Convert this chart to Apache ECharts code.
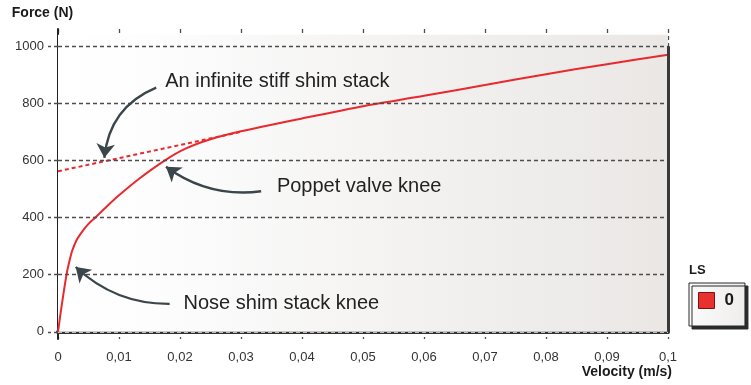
<!DOCTYPE html>
<html>
<head>
<meta charset="utf-8">
<title>Force vs velocity</title>
<script src="https://cdn.jsdelivr.net/npm/echarts@6/dist/echarts.min.js"></script>
<style>
  html, body { margin: 0; padding: 0; background: #ffffff; }
  #chart { width: 751px; height: 385px; }
</style>
</head>
<body>
<div id="chart"></div>
<script>
// Damper force curve (LS setting 0)
const velocity = [0, 0.0004, 0.0008, 0.0012, 0.0015, 0.0018, 0.0023, 0.0031, 0.004, 0.005,
  0.0062, 0.008, 0.01, 0.0133, 0.0176, 0.0209, 0.025, 0.03,
  0.04, 0.05, 0.06, 0.07, 0.08, 0.09, 0.1];
const force = [0, 62, 120, 175, 212, 241, 282, 323, 352, 378,
  402, 439, 478, 536, 601, 641, 674, 702,
  747, 790, 826, 864, 902, 937, 970];

// Tangent of the upper branch (infinitely stiff shim stack)
const stiffVelocity = [0, 0.03];
const stiffForce = [562, 700];

const forceTicks = [0, 200, 400, 600, 800, 1000];
const legendNames = ['0'];

// Annotation texts with arrow tail / tip in data units
const notes = [
  { text: 'An infinite stiff shim stack', at: [0.0175, 877], tail: [0.0161, 855], tip: [0.0076, 609], bend: -0.3 },
  { text: 'Poppet valve knee', at: [0.0358, 509], tail: [0.0333, 492], tip: [0.0177, 578], bend: 0.2 },
  { text: 'Nose shim stack knee', at: [0.0205, 98], tail: [0.0183, 98], tip: [0.0029, 227], bend: 0.2 }
];

const FONT = 'Arial, "Liberation Sans", sans-serif';
const RED = '#e8292e';
const GRIDLINE = { color: '#4d4d4d', width: 1.3, type: [4, 3] };

const mainPoints = velocity.map((v, i) => [v, force[i]]);
const stiffPoints = stiffVelocity.map((v, i) => [v, stiffForce[i]]);

const chart = echarts.init(document.getElementById('chart'), null, { renderer: 'canvas' });

chart.setOption({
  animation: false,
  textStyle: { fontFamily: FONT },
  title: {
    text: 'LS',
    left: 689,
    top: 264,
    padding: 0,
    textStyle: { fontFamily: FONT, fontSize: 13, fontWeight: 'bold', color: '#1a1a1a' }
  },
  legend: {
    data: legendNames,
    left: 689,
    top: 283,
    orient: 'vertical',
    padding: [9, 11, 17, 9],
    itemWidth: 16,
    itemHeight: 16,
    icon: 'rect',
    backgroundColor: {
      type: 'linear', x: 0, y: 0, x2: 1, y2: 0,
      colorStops: [{ offset: 0, color: '#fbfbfb' }, { offset: 1, color: '#efedec' }]
    },
    borderColor: '#2a2a2a',
    borderWidth: 1,
    shadowColor: '#2a2a2a',
    shadowBlur: 0,
    shadowOffsetX: 3,
    shadowOffsetY: 3,
    itemStyle: { color: '#e8302f', borderColor: '#7a1414', borderWidth: 1 },
    textStyle: { fontFamily: FONT, fontSize: 17, fontWeight: 'bold', color: '#1a1a1a', padding: [0, 0, 0, 5] },
    selectedMode: false
  },
  grid: { left: 58, right: 83, top: 29, bottom: 46, outerBoundsMode: 'none', containLabel: false },
  xAxis: {
    type: 'value',
    min: 0,
    max: 0.1,
    interval: 0.01,
    name: 'Velocity (m/s)',
    nameLocation: 'end',
    nameGap: 4,
    nameTextStyle: {
      fontFamily: FONT, fontSize: 14, fontWeight: 'bold', color: '#1a1a1a',
      align: 'right', verticalAlign: 'top', padding: [33, 0, 0, 0]
    },
    axisLine: { show: true, onZero: true, lineStyle: { color: '#333333', width: 4 } },
    axisTick: { show: false },
    axisLabel: {
      margin: 12,
      fontSize: 13,
      color: '#333333',
      formatter: v => String(+v.toFixed(3)).replace('.', ',')
    },
    splitLine: { show: true, lineStyle: GRIDLINE }
  },
  yAxis: {
    type: 'value',
    min: -25,
    max: 1060,
    name: 'Force (N)',
    nameLocation: 'end',
    nameGap: 9,
    nameTextStyle: {
      fontFamily: FONT, fontSize: 14, fontWeight: 'bold', color: '#1a1a1a',
      align: 'center', padding: [0, 31, 0, 0]
    },
    axisLine: { show: true, lineStyle: { color: '#222222', width: 2 } },
    axisTick: {
      show: true, customValues: forceTicks, length: 10, inside: false,
      lineStyle: GRIDLINE
    },
    axisLabel: {
      customValues: forceTicks,
      margin: 14,
      fontSize: 13,
      color: '#333333',
      formatter: v => String(v)
    },
    splitLine: { show: false }
  },
  series: [
    {
      // shaded plotting surface
      name: 'surface',
      type: 'line',
      data: [],
      z: -1,
      silent: true,
      markArea: {
        silent: true,
        itemStyle: {
          color: {
            type: 'linear', x: 0, y: 0, x2: 1, y2: 0,
            colorStops: [
              { offset: 0, color: '#ffffff' },
              { offset: 0.15, color: '#fdfdfd' },
              { offset: 1, color: '#eae7e5' }
            ]
          }
        },
        data: [[{ coord: [0, 0] }, { coord: [0.1, 1040] }]]
      }
    },
    {
      // horizontal grid lines and frame
      name: 'frame',
      type: 'line',
      data: [],
      z: 1,
      silent: true,
      markLine: {
        silent: true,
        symbol: 'none',
        label: { show: false },
        emphasis: { disabled: true },
        data: forceTicks.filter(t => t > 0).map(t => ({ yAxis: t, lineStyle: GRIDLINE }))
          .concat([
            { yAxis: 0, lineStyle: { color: '#bdbdbd', width: 1, type: [4, 3] } },
            [{ coord: [0.1, 0], lineStyle: { color: '#3a3a3a', width: 3, type: 'solid' } }, { coord: [0.1, 1000] }]
          ])
      }
    },
    {
      name: 'stiff',
      type: 'line',
      data: stiffPoints,
      z: 3,
      showSymbol: false,
      symbol: 'none',
      lineStyle: { color: RED, width: 2, type: [4, 3] },
      silent: true
    },
    {
      name: '0',
      type: 'line',
      data: mainPoints,
      z: 4,
      showSymbol: false,
      symbol: 'none',
      smooth: 0.25,
      color: '#e8302f',
      lineStyle: { color: RED, width: 2 },
      silent: true,
      markPoint: {
        silent: true,
        symbol: 'rect',
        symbolSize: 1,
        itemStyle: { color: 'rgba(0,0,0,0)' },
        label: {
          show: true,
          position: 'right',
          distance: 0,
          fontFamily: FONT,
          fontSize: 20,
          color: '#222222'
        },
        data: notes.map(n => ({ coord: n.at, label: { formatter: n.text } }))
      }
    },
    {
      // curved pointer arrows for the annotations
      name: 'pointers',
      type: 'lines',
      coordinateSystem: 'cartesian2d',
      z: 5,
      silent: true,
      symbol: ['none', 'arrow'],
      symbolSize: 14,
      lineStyle: { color: '#3b464b', width: 2.4, opacity: 1 },
      data: notes.map(n => ({ coords: [n.tail, n.tip], lineStyle: { curveness: n.bend } }))
    }
  ]
});
</script>
</body>
</html>
